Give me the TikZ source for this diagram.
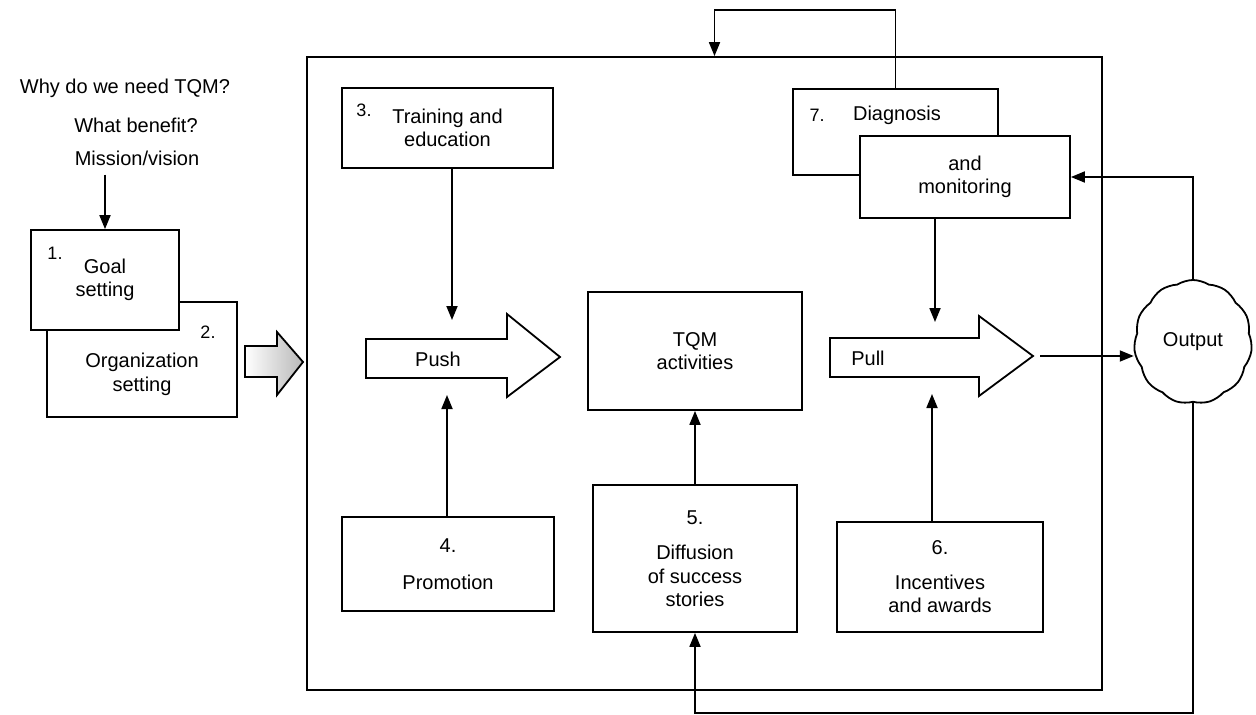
\documentclass[tikz,border=0pt]{standalone}
\usepackage{fontspec}
\setmainfont{Liberation Sans}
\usetikzlibrary{arrows.meta,shapes.symbols}

\begin{document}
\begin{tikzpicture}[
    x=1pt, y=-1pt,
    box/.style={draw, line width=1.8pt, fill=white, align=center, inner sep=0pt,
                font=\fontsize{20}{23.5}\selectfont},
    txt/.style={font=\fontsize{20}{23.5}\selectfont, align=center, inner sep=1pt},
    num/.style={font=\fontsize{18}{20}\selectfont, inner sep=0pt},
    arr/.style={line width=1.8pt, -{Triangle[length=14pt,width=11pt]}},
    fat/.style={draw, line width=1.8pt, line join=miter, fill=white}
]
\useasboundingbox (0,0) rectangle (1256,715);

% Questions on the left
\node[txt] (why) at (125,88) {Why do we need TQM?};
\node[txt] (benefit) at (136,125) {What benefit?};
\node[txt] (mission) at (137,158) {Mission/vision};

% Goal and organization setting
\node[box, minimum width=190pt, minimum height=115pt] (b2) at (142,359.5) {};
\node[box, minimum width=148pt, minimum height=100pt] (b1) at (105,280) {Goal\\setting};
\node[num] (n1) at (55,253) {1.};
\node[num] (n2) at (208,332) {2.};
\node[txt] (orgtxt) at (142,374.5) {Organization\\setting};

\draw[arr] (b1.north |- mission.south) ++(0,8) -- (b1.north);

% Shaded arrow into the frame
\draw[fat, left color=white, right color=gray!55]
  (245,346) -- (277,346) -- (277,332) -- (303,362) -- (277,395) -- (277,377) -- (245,377) -- cycle;

% Main frame
\node[draw, line width=1.8pt, minimum width=795pt, minimum height=633pt, inner sep=0pt]
  (frame) at (704.5,373.5) {};

% Boxes inside the frame
\node[box, minimum width=211pt, minimum height=80pt] (b3) at (447.5,128) {Training and\\education};
\node[num] (n3) at (364,110) {3.};
\node[box, minimum width=214pt, minimum height=118pt] (tqm) at (695,351) {TQM\\activities};
\node[box, minimum width=205pt, minimum height=86pt] (b7) at (895.5,132) {};
\node[txt] (diag) at (897,115) {Diagnosis};
\node[num] (n7) at (817,115) {7.};
\node[box, minimum width=210pt, minimum height=82pt] (bm) at (965,177) {and\\monitoring};
\node[box, minimum width=212pt, minimum height=94pt] (b4) at (448,564) {4.\\[14pt]Promotion};
\node[box, minimum width=204pt, minimum height=147pt] (b5) at (695,558.5) {5.\\[12pt]Diffusion\\of success\\stories};
\node[box, minimum width=206pt, minimum height=110pt] (b6) at (940,577) {6.\\[11pt]Incentives\\and awards};

% Push and pull arrows
\draw[fat] (366,339) -- (507,339) -- (507,314) -- (560,357) -- (507,397) -- (507,378) -- (366,378) -- cycle;
\node[txt] (push) at (438,359) {Push};
\draw[fat] (830,338) -- (979,338) -- (979,316) -- (1033,356) -- (979,396) -- (979,377) -- (830,377) -- cycle;
\node[txt] (pull) at (868,358) {Pull};
\coordinate (pushtop) at (452,320);
\coordinate (pushbot) at (447,395);
\coordinate (pulltop) at (935,322);
\coordinate (pullbot) at (932,394);
\coordinate (pulltip) at (1040,356);

% Output cloud
\node[draw, cloud, cloud puffs=11, cloud puff arc=65, aspect=1, line width=1.8pt,
      minimum width=118pt, minimum height=124pt, font=\fontsize{20}{23.5}\selectfont]
  (out) at (1193,342) {Output};

% Connectors
\draw[arr] (pushtop |- b3.south) -- (pushtop);
\draw[arr] (pushbot |- b4.north) -- (pushbot);
\draw[arr] (b5) -- (tqm);
\draw[arr] (pulltop |- bm.south) -- (pulltop);
\draw[arr] (pullbot |- b6.north) -- (pullbot);
\draw[arr] (pulltip) -- (pulltip -| out.west);
\draw[arr] (out.north) |- (bm.east);

% Feedback loops
\coordinate (topline) at (0,10);
\coordinate (lowline) at (0,713);
\draw[arr] (b7.north) -- (b7.north |- topline) -| ([xshift=10pt]frame.north);
\draw[arr] (out.south) -- (out.south |- lowline) -| (b5.south);

\end{tikzpicture}
\end{document}
